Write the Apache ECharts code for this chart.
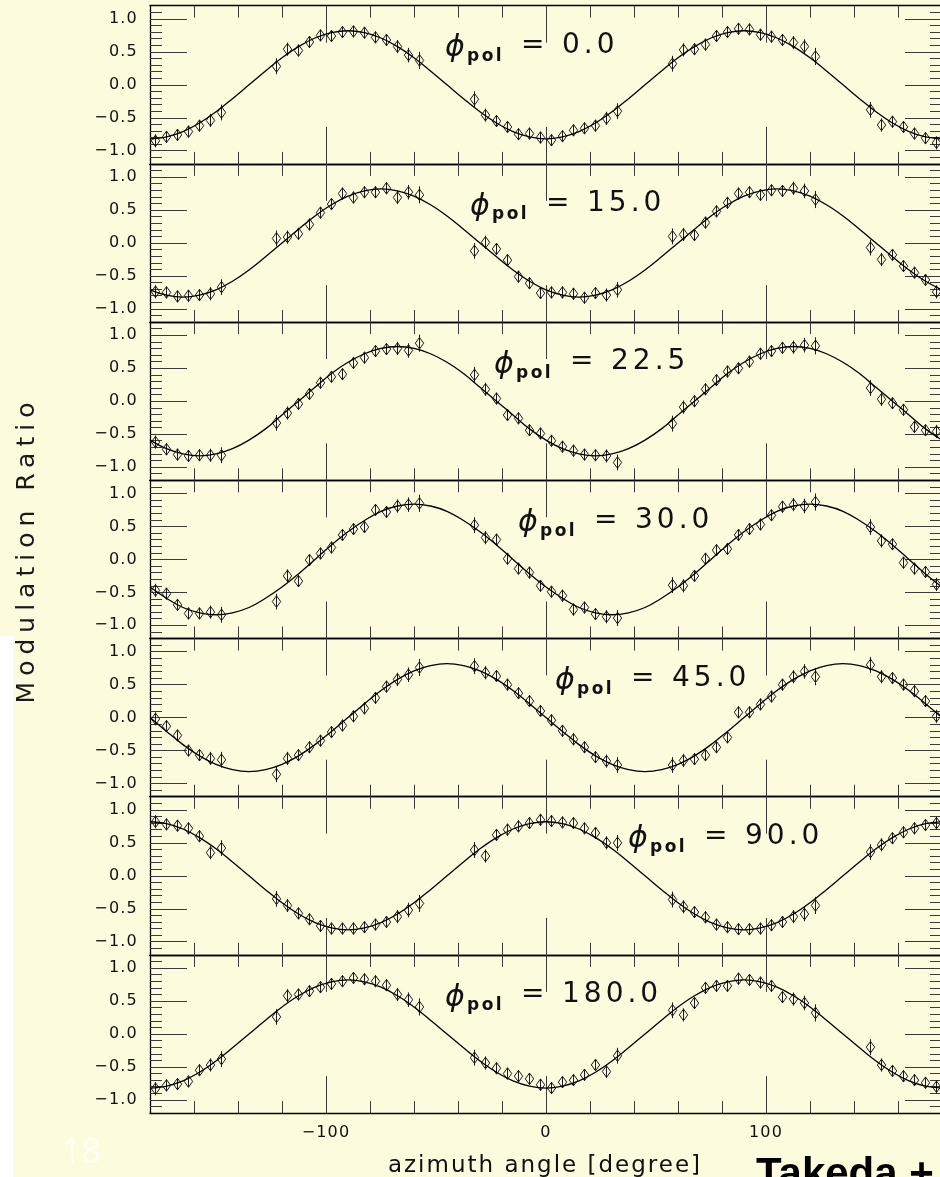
<!DOCTYPE html>
<html>
<head>
<meta charset="utf-8">
<script src="https://cdn.jsdelivr.net/npm/echarts@6/dist/echarts.min.js"></script>
<style>
  html, body { margin: 0; padding: 0; background: #fdfbdd; }
  #chart { width: 940px; height: 1177px; }
</style>
</head>
<body>
<div id="chart"></div>
<script>
// Azimuth bins (degrees) shared by every polarization panel
const azimuth = [
  -177.5, -172.5, -167.5, -162.5, -157.5, -152.5, -147.5,
  -122.5, -117.5, -112.5, -107.5, -102.5, -97.5, -92.5, -87.5, -82.5, -77.5, -72.5, -67.5, -62.5, -57.5,
  -32.5, -27.5, -22.5, -17.5, -12.5, -7.5, -2.5,
  2.5, 7.5, 12.5, 17.5, 22.5, 27.5, 32.5,
  57.5, 62.5, 67.5, 72.5, 77.5, 82.5, 87.5, 92.5, 97.5, 102.5, 107.5, 112.5, 117.5, 122.5,
  147.5, 152.5, 157.5, 162.5, 167.5, 172.5, 177.5
];

// Half-length of the error bar at each azimuth bin
const errHalf = [
  0.10, 0.09, 0.09, 0.09, 0.09, 0.10, 0.12,
  0.12, 0.10, 0.09, 0.09, 0.09, 0.09, 0.09, 0.09, 0.09, 0.09, 0.09, 0.10, 0.11, 0.13,
  0.12, 0.10, 0.09, 0.09, 0.09, 0.09, 0.09,
  0.09, 0.09, 0.09, 0.09, 0.09, 0.10, 0.12,
  0.12, 0.10, 0.09, 0.09, 0.09, 0.09, 0.09, 0.09, 0.09, 0.09, 0.09, 0.10, 0.11, 0.13,
  0.12, 0.10, 0.09, 0.09, 0.09, 0.09, 0.10
];

// Measured modulation ratio per panel
const ratio00 = [
  -0.85, -0.79, -0.76, -0.71, -0.62, -0.54, -0.42,
  0.28, 0.54, 0.52, 0.65, 0.75, 0.74, 0.80, 0.81, 0.79, 0.72, 0.68, 0.58, 0.45, 0.37,
  -0.22, -0.46, -0.55, -0.64, -0.75, -0.74, -0.80,
  -0.84, -0.78, -0.69, -0.66, -0.62, -0.51, -0.40,
  0.32, 0.53, 0.54, 0.61, 0.74, 0.80, 0.85, 0.84, 0.76, 0.73, 0.68, 0.64, 0.58, 0.43,
  -0.38, -0.61, -0.56, -0.64, -0.74, -0.81, -0.88
];
const ratio15 = [
  -0.74, -0.75, -0.81, -0.80, -0.79, -0.77, -0.67,
  0.07, 0.09, 0.14, 0.28, 0.46, 0.59, 0.75, 0.69, 0.77, 0.77, 0.83, 0.69, 0.77, 0.73,
  -0.12, 0.01, -0.09, -0.26, -0.51, -0.61, -0.76,
  -0.75, -0.75, -0.77, -0.83, -0.76, -0.79, -0.71,
  0.10, 0.13, 0.12, 0.31, 0.48, 0.61, 0.75, 0.77, 0.73, 0.80, 0.79, 0.83, 0.79, 0.66,
  -0.07, -0.25, -0.18, -0.35, -0.45, -0.56, -0.74
];
const ratio225 = [
  -0.62, -0.73, -0.81, -0.83, -0.82, -0.82, -0.82,
  -0.33, -0.18, -0.04, 0.11, 0.28, 0.37, 0.41, 0.58, 0.66, 0.76, 0.79, 0.80, 0.77, 0.88,
  0.40, 0.18, 0.04, -0.21, -0.26, -0.44, -0.49,
  -0.60, -0.69, -0.75, -0.81, -0.82, -0.83, -0.93,
  -0.34, -0.09, 0.00, 0.18, 0.32, 0.45, 0.50, 0.60, 0.72, 0.76, 0.81, 0.82, 0.85, 0.84,
  0.20, 0.03, -0.03, -0.13, -0.39, -0.44, -0.46
];
const ratio30 = [
  -0.47, -0.52, -0.69, -0.82, -0.82, -0.80, -0.84,
  -0.64, -0.25, -0.33, -0.01, 0.09, 0.18, 0.37, 0.46, 0.49, 0.75, 0.72, 0.81, 0.83, 0.85,
  0.52, 0.33, 0.30, 0.01, -0.14, -0.20, -0.40,
  -0.49, -0.55, -0.76, -0.73, -0.83, -0.87, -0.89,
  -0.39, -0.40, -0.25, 0.01, 0.14, 0.16, 0.37, 0.46, 0.53, 0.67, 0.80, 0.83, 0.81, 0.87,
  0.49, 0.28, 0.23, -0.05, -0.14, -0.19, -0.38
];
const ratio45 = [
  -0.02, -0.13, -0.27, -0.50, -0.57, -0.62, -0.64,
  -0.86, -0.62, -0.57, -0.45, -0.35, -0.22, -0.12, 0.02, 0.14, 0.30, 0.47, 0.58, 0.65, 0.76,
  0.78, 0.68, 0.63, 0.50, 0.37, 0.25, 0.10,
  -0.04, -0.20, -0.33, -0.45, -0.60, -0.66, -0.72,
  -0.72, -0.65, -0.63, -0.57, -0.45, -0.30, 0.08, 0.08, 0.20, 0.32, 0.50, 0.62, 0.70, 0.62,
  0.80, 0.62, 0.60, 0.50, 0.40, 0.25, 0.02
];
const ratio90 = [
  0.82, 0.78, 0.76, 0.72, 0.60, 0.35, 0.42,
  -0.35, -0.45, -0.57, -0.66, -0.76, -0.80, -0.80, -0.80, -0.78, -0.74, -0.70, -0.62, -0.52, -0.42,
  0.39, 0.30, 0.62, 0.70, 0.75, 0.80, 0.85,
  0.83, 0.81, 0.80, 0.72, 0.65, 0.50, 0.50,
  -0.36, -0.47, -0.55, -0.63, -0.74, -0.78, -0.81, -0.81, -0.80, -0.75, -0.70, -0.62, -0.58, -0.45,
  0.36, 0.47, 0.57, 0.66, 0.72, 0.77, 0.80
];
const ratio180 = [
  -0.83, -0.78, -0.76, -0.72, -0.55, -0.47, -0.38,
  0.26, 0.58, 0.60, 0.65, 0.71, 0.76, 0.80, 0.85, 0.83, 0.80, 0.74, 0.60, 0.52, 0.41,
  -0.36, -0.44, -0.52, -0.60, -0.64, -0.68, -0.77,
  -0.82, -0.73, -0.70, -0.62, -0.47, -0.57, -0.33,
  0.36, 0.29, 0.47, 0.70, 0.73, 0.73, 0.84, 0.82, 0.78, 0.73, 0.56, 0.53, 0.47, 0.32,
  -0.20, -0.47, -0.56, -0.64, -0.70, -0.74, -0.80
];

// Fitted modulation curves, sampled every 7.5 degrees from -180 to 180
const fitAngles = [];
for (let a = -180; a <= 180; a += 7.5) fitAngles.push(a);
const fit00 = [
  -0.82, -0.79, -0.71, -0.58, -0.41, -0.21, 0.00, 0.21, 0.41, 0.58, 0.71, 0.79,
  0.82, 0.79, 0.71, 0.58, 0.41, 0.21, 0.00, -0.21, -0.41, -0.58, -0.71, -0.79,
  -0.82, -0.79, -0.71, -0.58, -0.41, -0.21, 0.00, 0.21, 0.41, 0.58, 0.71, 0.79,
  0.82, 0.79, 0.71, 0.58, 0.41, 0.21, 0.00, -0.21, -0.41, -0.58, -0.71, -0.79, -0.82
];
const fit15 = [
  -0.71, -0.79, -0.82, -0.79, -0.71, -0.58, -0.41, -0.21, 0.00, 0.21, 0.41, 0.58,
  0.71, 0.79, 0.82, 0.79, 0.71, 0.58, 0.41, 0.21, 0.00, -0.21, -0.41, -0.58,
  -0.71, -0.79, -0.82, -0.79, -0.71, -0.58, -0.41, -0.21, 0.00, 0.21, 0.41, 0.58,
  0.71, 0.79, 0.82, 0.79, 0.71, 0.58, 0.41, 0.21, 0.00, -0.21, -0.41, -0.58, -0.71
];
const fit225 = [
  -0.59, -0.72, -0.80, -0.83, -0.80, -0.72, -0.59, -0.42, -0.21, 0.00, 0.21, 0.42,
  0.59, 0.72, 0.80, 0.83, 0.80, 0.72, 0.59, 0.42, 0.21, 0.00, -0.21, -0.42,
  -0.59, -0.72, -0.80, -0.83, -0.80, -0.72, -0.59, -0.42, -0.21, 0.00, 0.21, 0.42,
  0.59, 0.72, 0.80, 0.83, 0.80, 0.72, 0.59, 0.42, 0.21, 0.00, -0.21, -0.42, -0.59
];
const fit30 = [
  -0.42, -0.59, -0.73, -0.81, -0.84, -0.81, -0.73, -0.59, -0.42, -0.22, 0.00, 0.22,
  0.42, 0.59, 0.73, 0.81, 0.84, 0.81, 0.73, 0.59, 0.42, 0.22, 0.00, -0.22,
  -0.42, -0.59, -0.73, -0.81, -0.84, -0.81, -0.73, -0.59, -0.42, -0.22, 0.00, 0.22,
  0.42, 0.59, 0.73, 0.81, 0.84, 0.81, 0.73, 0.59, 0.42, 0.22, 0.00, -0.22, -0.42
];
const fit45 = [
  0.00, -0.21, -0.41, -0.58, -0.71, -0.79, -0.82, -0.79, -0.71, -0.58, -0.41, -0.21,
  0.00, 0.21, 0.41, 0.58, 0.71, 0.79, 0.82, 0.79, 0.71, 0.58, 0.41, 0.21,
  0.00, -0.21, -0.41, -0.58, -0.71, -0.79, -0.82, -0.79, -0.71, -0.58, -0.41, -0.21,
  0.00, 0.21, 0.41, 0.58, 0.71, 0.79, 0.82, 0.79, 0.71, 0.58, 0.41, 0.21, 0.00
];
const fit90 = [
  0.82, 0.79, 0.71, 0.58, 0.41, 0.21, 0.00, -0.21, -0.41, -0.58, -0.71, -0.79,
  -0.82, -0.79, -0.71, -0.58, -0.41, -0.21, 0.00, 0.21, 0.41, 0.58, 0.71, 0.79,
  0.82, 0.79, 0.71, 0.58, 0.41, 0.21, 0.00, -0.21, -0.41, -0.58, -0.71, -0.79,
  -0.82, -0.79, -0.71, -0.58, -0.41, -0.21, 0.00, 0.21, 0.41, 0.58, 0.71, 0.79, 0.82
];
const fit180 = [
  -0.82, -0.79, -0.71, -0.58, -0.41, -0.21, 0.00, 0.21, 0.41, 0.58, 0.71, 0.79,
  0.82, 0.79, 0.71, 0.58, 0.41, 0.21, 0.00, -0.21, -0.41, -0.58, -0.71, -0.79,
  -0.82, -0.79, -0.71, -0.58, -0.41, -0.21, 0.00, 0.21, 0.41, 0.58, 0.71, 0.79,
  0.82, 0.79, 0.71, 0.58, 0.41, 0.21, 0.00, -0.21, -0.41, -0.58, -0.71, -0.79, -0.82
];

// Polarization angle of each panel, top to bottom
const polAngles = ['0.0', '15.0', '22.5', '30.0', '45.0', '90.0', '180.0'];
const panelRatios = [ratio00, ratio15, ratio225, ratio30, ratio45, ratio90, ratio180];
const panelFits = [fit00, fit15, fit225, fit30, fit45, fit90, fit180];

// Tick values
const xMajorTicks = [-100, 0, 100];
const xMinorTicks = [-160, -140, -120, -80, -60, -40, -20, 20, 40, 60, 80, 120, 140, 160];
const yMajorTicks = [-1.0, -0.5, 0.0, 0.5, 1.0];
const yMinorTicks = [-1.1, -0.9, -0.8, -0.7, -0.6, -0.4, -0.3, -0.2, -0.1,
  0.1, 0.2, 0.3, 0.4, 0.6, 0.7, 0.8, 0.9, 1.1];

// ---- typography: the plot font is set with wide tracking ----
const trackingBySize = { 16: 1.2, 17: 2.5, 23: 2, 25: 6, 28: 4 };
(function () {
  const proto = CanvasRenderingContext2D.prototype;
  if (!('letterSpacing' in proto)) return;
  const fill = proto.fillText;
  proto.fillText = function (text, x, y, maxW) {
    const m = /(\d+(?:\.\d+)?)px/.exec(this.font || '');
    const t = m ? trackingBySize[Math.round(parseFloat(m[1]))] : 0;
    this.letterSpacing = (t || 0) + 'px';
    return maxW === undefined ? fill.call(this, text, x, y) : fill.call(this, text, x, y, maxW);
  };
})();

// ---- layout ----
const FONT = '"DejaVu Sans", sans-serif';
const INK = '#111';
const PLOT_LEFT = 150, PLOT_W = 792;
const PLOT_TOP = 5.7, PANEL_H = 158.2;
const N = polAngles.length;
const labelX = [445, 470, 494, 518, 555, 628, 445];

const minus = s => String(s).replace('-', '\u2212');

const grids = [], xAxes = [], yAxes = [], series = [], graphics = [];

function tickAxis(kind, gridIndex, position, values, length, withLine, labels) {
  const ax = {
    gridIndex, type: 'value', position,
    axisLine: { show: withLine, onZero: false, lineStyle: { color: '#000', width: 1.3 } },
    axisTick: { show: true, inside: true, length, customValues: values,
      lineStyle: { color: '#3a3a3a', width: 1 } },
    axisLabel: { show: false },
    splitLine: { show: false },
    axisPointer: { show: false }
  };
  if (kind === 'x') { ax.min = -180; ax.max = 180; }
  else { ax.min = -1.2; ax.max = 1.2; }
  if (labels) {
    ax.axisLabel = {
      show: true, customValues: values, margin: 12,
      fontFamily: FONT, fontSize: 16, color: INK,
      formatter: v => kind === 'x' ? minus(Math.round(v)) : minus(Number(v).toFixed(1))
    };
  }
  return ax;
}

for (let i = 0; i < N; i++) {
  const top = PLOT_TOP + i * PANEL_H;
  grids.push({ left: PLOT_LEFT, top, width: PLOT_W, height: PANEL_H,
    outerBoundsMode: 'none', containLabel: false });

  const xb = xAxes.length;
  xAxes.push(tickAxis('x', i, 'bottom', xMinorTicks, 12, true, false));
  xAxes.push(tickAxis('x', i, 'bottom', xMajorTicks, 37, false, i === N - 1));
  xAxes.push(tickAxis('x', i, 'top', xMinorTicks, 12, true, false));
  xAxes.push(tickAxis('x', i, 'top', xMajorTicks, 37, false, false));

  const yb = yAxes.length;
  yAxes.push(tickAxis('y', i, 'left', yMinorTicks, 12, true, false));
  yAxes.push(tickAxis('y', i, 'left', yMajorTicks, 37, false, true));
  yAxes.push(tickAxis('y', i, 'right', yMinorTicks, 12, true, false));
  yAxes.push(tickAxis('y', i, 'right', yMajorTicks, 37, false, false));

  // fitted curve
  series.push({
    type: 'line', xAxisIndex: xb, yAxisIndex: yb,
    data: fitAngles.map((a, k) => [a, panelFits[i][k]]),
    smooth: 0.4, symbol: 'none', silent: true,
    lineStyle: { color: '#000', width: 1.3 }
  });

  // measured points: open diamonds with vertical error bars
  series.push({
    type: 'custom', xAxisIndex: xb, yAxisIndex: yb,
    data: azimuth.map((a, k) => [a, panelRatios[i][k], errHalf[k]]),
    encode: { x: 0, y: 1 },
    silent: true,
    renderItem: (params, api) => {
      const x = api.value(0), y = api.value(1), e = api.value(2);
      const c = api.coord([x, y]);
      const lo = api.coord([x, y - e]);
      const hi = api.coord([x, y + e]);
      const hw = 4.2, hh = 5.8;
      return {
        type: 'group',
        children: [
          { type: 'line', shape: { x1: c[0], y1: lo[1], x2: c[0], y2: hi[1] },
            style: { stroke: '#1a1a1a', lineWidth: 1 } },
          { type: 'polygon',
            shape: { points: [[c[0], c[1] - hh], [c[0] + hw, c[1]], [c[0], c[1] + hh], [c[0] - hw, c[1]]] },
            style: { fill: 'none', stroke: '#1a1a1a', lineWidth: 1 } }
        ]
      };
    }
  });

  // polarization label
  const bx = labelX[i];
  graphics.push(
    { type: 'text', x: bx, y: top + 43, silent: true,
      style: { text: '\u03D5', font: 'italic 30px ' + FONT, fill: INK, verticalAlign: 'middle' } },
    { type: 'text', x: bx + 22, y: top + 51, silent: true,
      style: { text: 'pol', font: 'bold 17px ' + FONT, fill: INK, verticalAlign: 'middle' } },
    { type: 'text', x: bx + 76, y: top + 40, silent: true,
      style: { text: '=', font: '28px ' + FONT, fill: INK, verticalAlign: 'middle' } },
    { type: 'text', x: bx + 117, y: top + 40, silent: true,
      style: { text: polAngles[i], font: '28px ' + FONT, fill: INK, verticalAlign: 'middle' } }
  );
}

// page furniture and axis titles
graphics.push(
  { type: 'rect', shape: { x: 0, y: 636, width: 13, height: 541 }, silent: true,
    style: { fill: '#ffffff' } },
  { type: 'text', x: 62, y: 1153, silent: true,
    style: { text: '18', font: '34px "Open Sans", sans-serif', fill: '#fffff2', verticalAlign: 'middle' } },
  { type: 'text', x: 27, y: 550, rotation: Math.PI / 2, silent: true,
    style: { text: 'Modulation Ratio', font: '25px ' + FONT, fill: '#1a1a1a',
      align: 'center', verticalAlign: 'middle' } },
  { type: 'text', x: 545, y: 1166, silent: true,
    style: { text: 'azimuth angle [degree]', font: '23px ' + FONT, fill: INK,
      align: 'center', verticalAlign: 'middle' } },
  { type: 'text', x: 756, y: 1154, silent: true,
    style: { text: 'Takeda +', font: 'bold 42px "Liberation Sans", sans-serif', fill: '#000',
      verticalAlign: 'top' } }
);

const chart = echarts.init(document.getElementById('chart'), null, { renderer: 'canvas' });
chart.setOption({
  backgroundColor: '#fdfbdd',
  animation: false,
  grid: grids,
  xAxis: xAxes,
  yAxis: yAxes,
  series,
  graphic: graphics
});
</script>
</body>
</html>
